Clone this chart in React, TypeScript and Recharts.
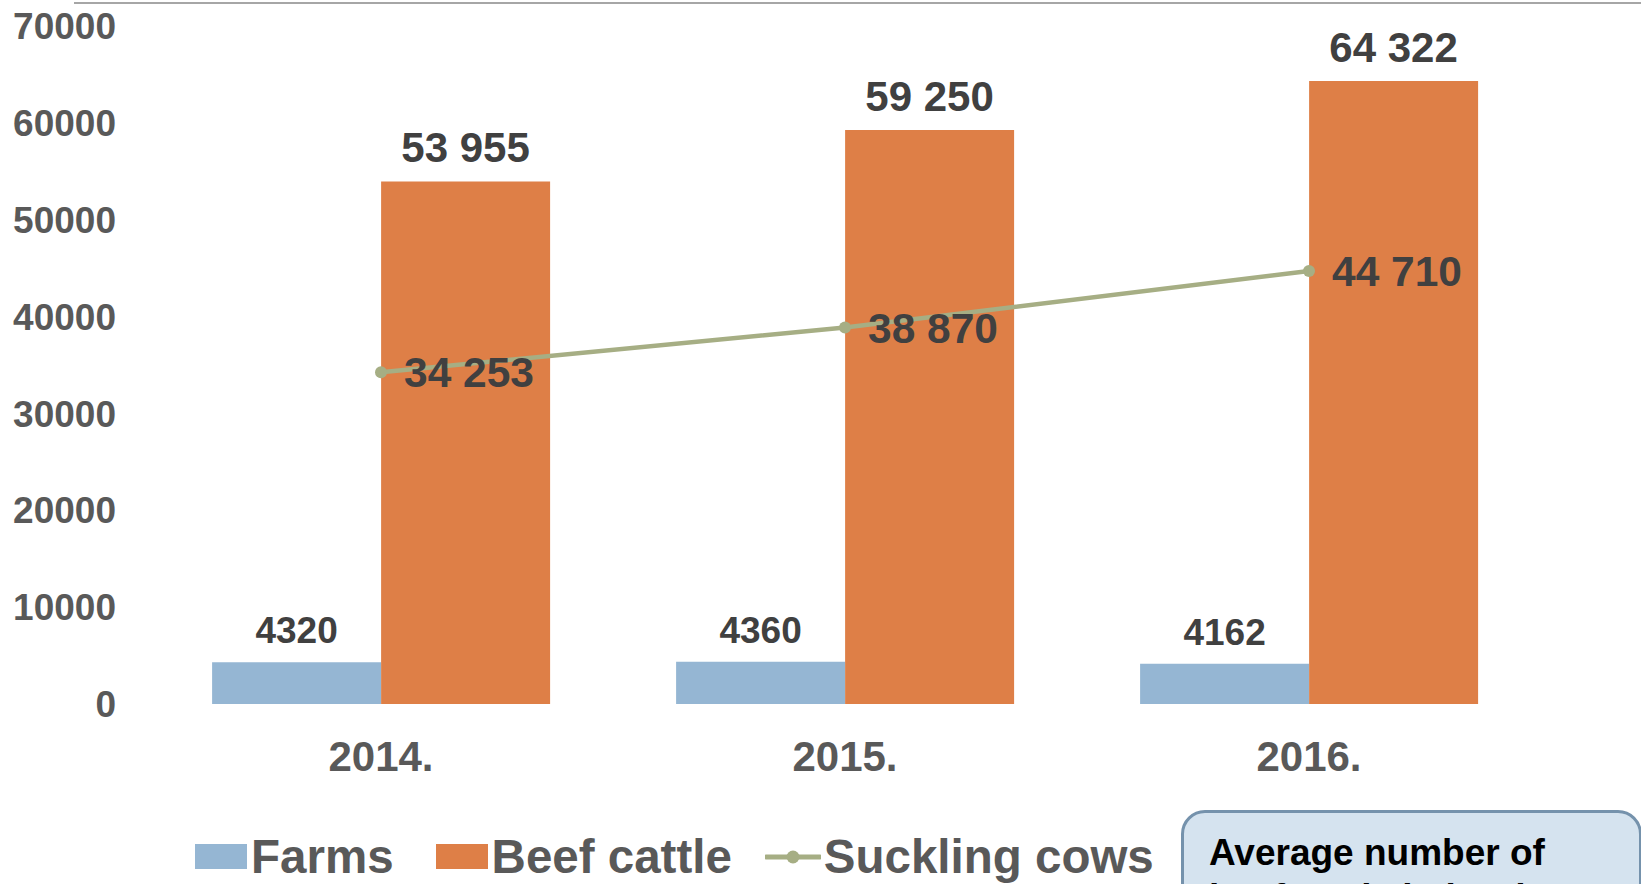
import React from "react";
import { ComposedChart, Bar, Line, XAxis, YAxis, LabelList } from "recharts";

const years = ["2014.", "2015.", "2016."];
const farms = [4320, 4360, 4162];
const beefCattle = [53955, 59250, 64322];
const sucklingCows = [34253, 38870, 44710];
const yTicks = [0, 10000, 20000, 30000, 40000, 50000, 60000, 70000];

const seriesNames = { farms: "Farms", beef: "Beef cattle", suckling: "Suckling cows" };
const colors = { farms: "#95B6D3", beef: "#DE7F47", suckling: "#A6AE84" };

const boxLines = ["Average number of", "beef cattle in herd: 15"];

const data = years.map((y, i) => ({
  year: y,
  farms: farms[i],
  beef: beefCattle[i],
  suckling: sucklingCows[i],
}));

const FONT = '"Liberation Sans", Arial, Helvetica, sans-serif';
const spaced = (v: any) => String(v).replace(/\B(?=(\d{3})+(?!\d))/g, " ");

export default function App() {
  return (
    <div
      style={{
        position: "fixed",
        left: 0,
        top: 0,
        width: 1641,
        height: 884,
        overflow: "hidden",
        background: "#fff",
        fontFamily: FONT,
      }}
    >
      <div style={{ position: "absolute", left: 74, top: 2, right: 0, height: 2, background: "#A6A6A6" }} />
      <ComposedChart
        width={1641}
        height={884}
        data={data}
        margin={{ top: 26, right: 100, bottom: 150, left: 0 }}
        barCategoryGap="13.6%"
        barGap={0}
      >
        <XAxis
          dataKey="year"
          axisLine={false}
          tickLine={false}
          tickSize={0}
          tickMargin={37}
          height={30}
          interval={0}
          tick={{ fill: "#595959", fontSize: 42, fontWeight: 700, fontFamily: FONT }}
        />
        <YAxis
          domain={[0, 70000]}
          ticks={yTicks}
          width={149}
          axisLine={false}
          tickLine={false}
          tickSize={0}
          tickMargin={33}
          interval={0}
          tick={{ fill: "#595959", fontSize: 37, fontWeight: 700, fontFamily: FONT }}
        />
        <Bar dataKey="farms" name={seriesNames.farms} fill={colors.farms} isAnimationActive={false}>
          <LabelList
            dataKey="farms"
            position="top"
            offset={19}
            fill="#404040"
            fontSize={37}
            fontWeight={700}
            fontFamily={FONT}
          />
        </Bar>
        <Bar dataKey="beef" name={seriesNames.beef} fill={colors.beef} isAnimationActive={false}>
          <LabelList
            dataKey="beef"
            position="top"
            offset={19}
            formatter={spaced}
            fill="#404040"
            fontSize={42}
            fontWeight={700}
            fontFamily={FONT}
          />
        </Bar>
        <Line
          dataKey="suckling"
          name={seriesNames.suckling}
          stroke={colors.suckling}
          strokeWidth={4.5}
          dot={{ r: 6, fill: colors.suckling, stroke: "none" }}
          activeDot={false}
          isAnimationActive={false}
        >
          <LabelList
            dataKey="suckling"
            position="right"
            offset={23}
            formatter={spaced}
            fill="#404040"
            fontSize={42.5}
            fontWeight={700}
            fontFamily={FONT}
          />
        </Line>
      </ComposedChart>

      {/* Legend */}
      <div
        style={{
          position: "absolute",
          left: 195,
          top: 833,
          display: "flex",
          alignItems: "center",
          height: 47,
          fontSize: 47.5,
          fontWeight: 700,
          color: "#595959",
          lineHeight: "47px",
          whiteSpace: "nowrap",
        }}
      >
        <span style={{ width: 52, height: 25, background: colors.farms, display: "inline-block", marginRight: 4 }} />
        <span>{seriesNames.farms}</span>
        <span
          style={{ width: 52, height: 25, background: colors.beef, display: "inline-block", marginLeft: 42, marginRight: 4 }}
        />
        <span>{seriesNames.beef}</span>
        <svg width={56} height={20} style={{ marginLeft: 33, marginRight: 3 }}>
          <line x1={1} y1={10} x2={55} y2={10} stroke={colors.suckling} strokeWidth={5} strokeLinecap="round" />
          <circle cx={28} cy={10} r={6.5} fill={colors.suckling} />
        </svg>
        <span>{seriesNames.suckling}</span>
      </div>

      {/* Info box */}
      <div
        style={{
          position: "absolute",
          left: 1181,
          top: 810,
          width: 461,
          height: 200,
          boxSizing: "border-box",
          border: "3px solid #7592AC",
          borderRadius: 24,
          background: "#D5E3EF",
          padding: "17px 0 0 25px",
          fontSize: 37,
          fontWeight: 700,
          lineHeight: "45px",
          color: "#000",
          whiteSpace: "nowrap",
        }}
      >
        {boxLines.map((l) => (
          <div key={l}>{l}</div>
        ))}
      </div>
    </div>
  );
}
